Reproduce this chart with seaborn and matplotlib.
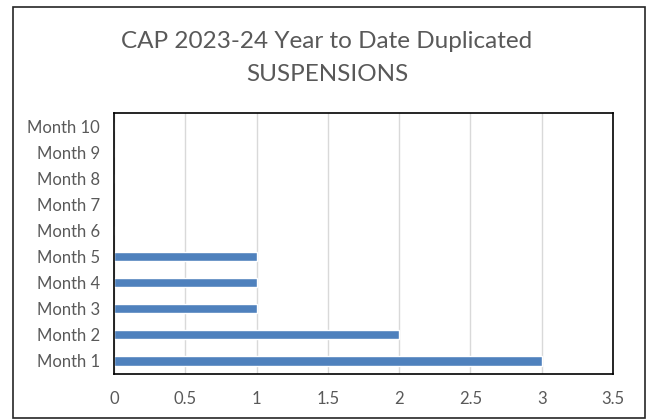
import pandas as pd
import seaborn as sns
import matplotlib.pyplot as plt
from matplotlib.patches import Rectangle

# Data
months = ["Month 1", "Month 2", "Month 3", "Month 4", "Month 5",
          "Month 6", "Month 7", "Month 8", "Month 9", "Month 10"]
suspensions = [3, 2, 1, 1, 1, 0, 0, 0, 0, 0]
x_ticks = [0, 0.5, 1, 1.5, 2, 2.5, 3, 3.5]
x_tick_labels = ["0", "0.5", "1", "1.5", "2", "2.5", "3", "3.5"]

df = pd.DataFrame({"month": months, "count": suspensions})

sns.set_theme(style="white")
plt.rcParams["font.family"] = ["Lato", "DejaVu Sans"]

text_col = "#595959"

fig = plt.figure(figsize=(6.54, 4.2), dpi=100)
ax = fig.add_axes([0.1743, 0.1095, 0.7630, 0.6203])

# Month 10 at the top, Month 1 at the bottom
sns.barplot(data=df, x="count", y="month", order=months[::-1],
            orient="h", color="#4F81BD", saturation=1, width=0.35, ax=ax)

ax.set_xlim(0, 3.5)
ax.set_xticks(x_ticks)
ax.set_xticklabels(x_tick_labels)
ax.xaxis.grid(True, color="#D9D9D9", linewidth=1)
ax.set_axisbelow(True)
ax.set_xlabel("")
ax.set_ylabel("")
ax.tick_params(axis="both", length=0, labelsize=12, colors=text_col)
ax.tick_params(axis="x", pad=12)
ax.tick_params(axis="y", pad=10)
for sp in ax.spines.values():
    sp.set_visible(True)
    sp.set_color("black")
    sp.set_linewidth(1.2)

fig.text(0.5, 0.90, "CAP 2023-24 Year to Date Duplicated", ha="center",
         va="center", fontsize=17.5, color=text_col)
fig.text(0.5, 0.822, "SUSPENSIONS", ha="center", va="center",
         fontsize=17.5, color=text_col)

# outer chart border
fig.patches.append(Rectangle((0.0199, 0.0048), 0.966, 0.9786,
                             transform=fig.transFigure, fill=False,
                             edgecolor="#262626", linewidth=1.2))

plt.savefig("out.png", dpi=100)
plt.close()
